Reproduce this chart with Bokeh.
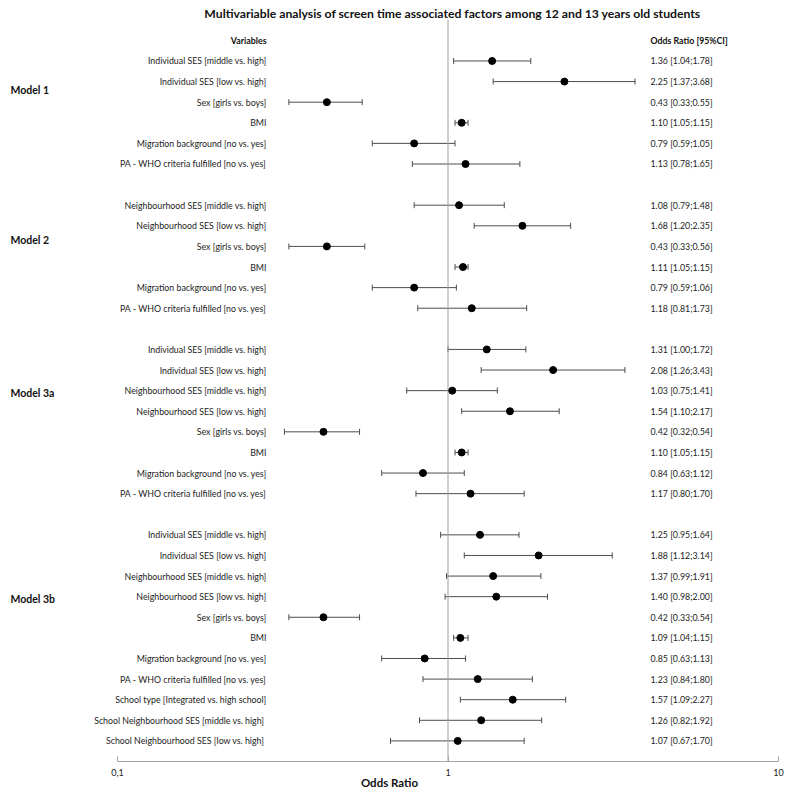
import math
from bokeh.plotting import figure
from bokeh.models import ColumnDataSource, Range1d, FixedTicker, Whisker, TeeHead
from bokeh.core.properties import value
from bokeh.embed import file_html
from bokeh.resources import INLINE

# ---------------- data ----------------
chart_title = "Multivariable analysis of screen time associated factors among 12 and 13 years old students"
header_left = "Variables"
header_right = "Odds Ratio [95%CI]"
axis_title = "Odds Ratio"
tick_values = [0.1, 1, 10]
tick_labels = ["0,1", "1", "10"]

model_names = ["Model 1", "Model 2", "Model 3a", "Model 3b"]

m1_vars = ["Individual SES [middle vs. high]", "Individual SES [low vs. high]", "Sex [girls vs. boys]",
           "BMI", "Migration background [no vs. yes]", "PA - WHO criteria fulfilled [no vs. yes]"]
m1_or = [1.36, 2.25, 0.43, 1.10, 0.79, 1.13]
m1_lo = [1.04, 1.37, 0.33, 1.05, 0.59, 0.78]
m1_hi = [1.78, 3.68, 0.55, 1.15, 1.05, 1.65]

m2_vars = ["Neighbourhood SES [middle vs. high]", "Neighbourhood SES [low vs. high]", "Sex [girls vs. boys]",
           "BMI", "Migration background [no vs. yes]", "PA - WHO criteria fulfilled [no vs. yes]"]
m2_or = [1.08, 1.68, 0.43, 1.11, 0.79, 1.18]
m2_lo = [0.79, 1.20, 0.33, 1.05, 0.59, 0.81]
m2_hi = [1.48, 2.35, 0.56, 1.15, 1.06, 1.73]

m3a_vars = ["Individual SES [middle vs. high]", "Individual SES [low vs. high]",
            "Neighbourhood SES [middle vs. high]", "Neighbourhood SES [low vs. high]", "Sex [girls vs. boys]",
            "BMI", "Migration background [no vs. yes]", "PA - WHO criteria fulfilled [no vs. yes]"]
m3a_or = [1.31, 2.08, 1.03, 1.54, 0.42, 1.10, 0.84, 1.17]
m3a_lo = [1.00, 1.26, 0.75, 1.10, 0.32, 1.05, 0.63, 0.80]
m3a_hi = [1.72, 3.43, 1.41, 2.17, 0.54, 1.15, 1.12, 1.70]

m3b_vars = ["Individual SES [middle vs. high]", "Individual SES [low vs. high]",
            "Neighbourhood SES [middle vs. high]", "Neighbourhood SES [low vs. high]", "Sex [girls vs. boys]",
            "BMI", "Migration background [no vs. yes]", "PA - WHO criteria fulfilled [no vs. yes]",
            "School type [Integrated vs. high school]", "School Neighbourhood SES  [middle vs. high]",
            "School Neighbourhood SES  [low vs. high]"]
m3b_or = [1.25, 1.88, 1.37, 1.40, 0.42, 1.09, 0.85, 1.23, 1.57, 1.26, 1.07]
m3b_lo = [0.95, 1.12, 0.99, 0.98, 0.33, 1.04, 0.63, 0.84, 1.09, 0.82, 0.67]
m3b_hi = [1.64, 3.14, 1.91, 2.00, 0.54, 1.15, 1.13, 1.80, 2.27, 1.92, 1.70]

# ---------------- layout constants ----------------
W, H = 786, 791
FRAME_W = 778                    # frame spans x = 0 .. 778 (figure px)
PX_AT_01 = 117                   # figure px of x = 0.1
DECADE = (FRAME_W - PX_AT_01) / 2.0
Y_TOP = -1.935                   # row units at top of frame
Y_AXIS = 35.0                    # row units of axis line
FONT = "Lato"
LBL_SIZE = "8.8px"


def px_to_x(px):
    return 10 ** (-1 + (px - PX_AT_01) / DECADE)


x_start = px_to_x(0)

# build rows
groups = [(m1_vars, m1_or, m1_lo, m1_hi), (m2_vars, m2_or, m2_lo, m2_hi),
          (m3a_vars, m3a_or, m3a_lo, m3a_hi), (m3b_vars, m3b_or, m3b_lo, m3b_hi)]
ys, names, ors, los, his, txt = [], [], [], [], [], []
row = 1
for vars_, o, lo, hi in groups:
    for v, a, b, c in zip(vars_, o, lo, hi):
        ys.append(row)
        names.append(v)
        ors.append(a)
        los.append(b)
        his.append(c)
        txt.append(f"{a:.2f} [{b:.2f};{c:.2f}]")
        row += 1
    row += 1

src = ColumnDataSource(dict(y=ys, name=names, orv=ors, lo=los, hi=his, txt=txt))

p = figure(width=W, height=H, x_axis_type="log", y_axis_location=None,
           x_range=Range1d(x_start, 10), y_range=Range1d(Y_AXIS, Y_TOP),
           output_backend="svg", toolbar_location=None,
           min_border_left=0, min_border_right=W - FRAME_W, min_border_top=0)
p.outline_line_color = None
p.grid.visible = False
p.background_fill_color = "white"
p.border_fill_color = "white"

ax = p.xaxis[0]
ax.ticker = FixedTicker(ticks=tick_values, minor_ticks=[])
ax.bounds = (0.1, 10)
ax.major_label_overrides = {t: l for t, l in zip(tick_values, tick_labels)}
ax.axis_line_color = "#a6a6a6"
ax.major_tick_line_color = "#a6a6a6"
ax.major_tick_in = 5
ax.major_tick_out = 0
ax.minor_tick_in = 0
ax.minor_tick_out = 0
ax.major_label_standoff = 7
ax.major_label_text_font = FONT
ax.major_label_text_font_size = "9px"
ax.major_label_text_color = "#222222"
ax.axis_label = axis_title
ax.axis_label_text_font = FONT
ax.axis_label_text_font_size = "11.5px"
ax.axis_label_text_font_style = "bold"
ax.axis_label_text_color = "#111111"
ax.axis_label_standoff = -3

# reference line at OR = 1
p.segment(x0=[1], x1=[1], y0=[-1.0], y1=[Y_AXIS], line_color="#a0a0a0", line_width=1)

# error bars
wh = Whisker(source=src, base="y", lower="lo", upper="hi", dimension="width",
             line_color="#4d4d4d", line_width=1,
             lower_head=TeeHead(size=6, line_color="#4d4d4d", line_width=1),
             upper_head=TeeHead(size=6, line_color="#4d4d4d", line_width=1))
p.add_layout(wh)

p.scatter(x="orv", y="y", source=src, size=7, color="black")

# variable labels
p.text(x=px_to_x(266), y="y", text="name", source=src, text_align="right", text_baseline="middle",
       text_font=value(FONT), text_font_size=LBL_SIZE, text_color="#222222")
# OR text
p.text(x=px_to_x(650), y="y", text="txt", source=src, text_align="left", text_baseline="middle",
       text_font=value(FONT), text_font_size=LBL_SIZE, text_color="#222222")
# headers
p.text(x=[px_to_x(266)], y=[0], text=[header_left], text_align="right", text_baseline="middle",
       text_font=value(FONT), text_font_size=LBL_SIZE, text_font_style="bold", text_color="#111111")
p.text(x=[px_to_x(650)], y=[0], text=[header_right], text_align="left", text_baseline="middle",
       text_font=value(FONT), text_font_size=LBL_SIZE, text_font_style="bold", text_color="#111111")
# model labels
p.text(x=[px_to_x(10)] * 4, y=[2.42, 9.68, 17.1, 27.1], text=model_names, text_align="left",
       text_baseline="middle", text_font=value(FONT), text_font_size="10.5px", text_font_style="bold",
       text_color="#111111")
# title
p.text(x=[px_to_x(452)], y=[-1.31], text=[chart_title], text_align="center", text_baseline="middle",
       text_font=value(FONT), text_font_size="12.2px", text_font_style="bold", text_color="#111111")

open("out.html", "w").write(file_html(p, INLINE))
